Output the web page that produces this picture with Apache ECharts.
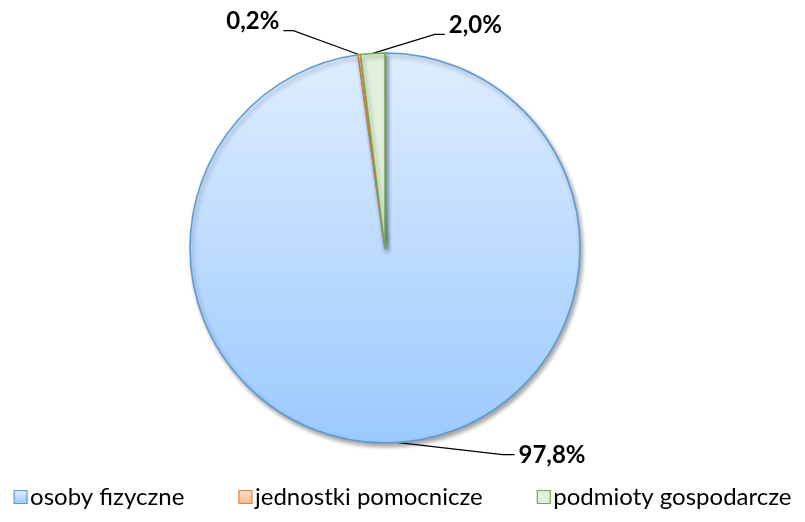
<!DOCTYPE html>
<html>
<head>
<meta charset="utf-8">
<script src="https://cdn.jsdelivr.net/npm/echarts@6/dist/echarts.min.js"></script>
<style>
  html, body { margin: 0; padding: 0; background: #ffffff; }
  #chart { width: 805px; height: 522px; }
</style>
</head>
<body>
<div id="chart"></div>
<script>
// Structure of entities (share, %)
const categories = ['osoby fizyczne', 'jednostki pomocnicze', 'podmioty gospodarcze'];
const values = [97.8, 0.2, 2.0];
const valueLabels = ['97,8%', '0,2%', '2,0%'];

const borderColors = ['#5b9bd5', '#ed7d31', '#70ad47'];
const fillTop = ['#deedff', '#fbe0cc', '#e2efda'];
const fillBottom = ['#9ccaff', '#f6b98c', '#e2efda'];

function grad(i) {
  return new echarts.graphic.LinearGradient(0, 0, 0, 1, [
    { offset: 0, color: fillTop[i] },
    { offset: 1, color: fillBottom[i] }
  ]);
}

// Leader-line shape for each label: [dx1, dy1, dx2 (horizontal tail)]
const leaderShape = [
  [104, 12, 12],
  [-66, -24, -10],
  [62, -19, 10]
];

const chart = echarts.init(document.getElementById('chart'));

chart.setOption({
  animation: false,
  legend: {
    bottom: 8,
    left: 'center',
    itemWidth: 13,
    itemHeight: 13,
    itemGap: 54,
    icon: 'rect',
    textStyle: { fontFamily: 'Lato', fontSize: 24, color: '#000', padding: [0, 0, 0, -2] },
    data: categories.map((c, i) => ({
      name: c,
      itemStyle: { color: grad(i), borderColor: borderColors[i], borderWidth: 1.2 }
    }))
  },
  series: [{
    type: 'pie',
    center: [385, 248],
    radius: 195,
    startAngle: 90,
    clockwise: true,
    avoidLabelOverlap: false,
    data: categories.map((c, i) => ({
      name: c,
      value: values[i],
      itemStyle: {
        color: grad(i),
        borderColor: borderColors[i],
        borderWidth: 1.5,
        shadowColor: 'rgba(0,0,0,0.35)',
        shadowBlur: 4,
        shadowOffsetX: 2,
        shadowOffsetY: 3
      }
    })),
    label: {
      show: true,
      position: 'outside',
      formatter: p => valueLabels[p.dataIndex],
      fontFamily: 'Lato',
      fontWeight: 'bold',
      fontSize: 24,
      color: '#000'
    },
    labelLine: {
      show: true,
      length: 10,
      length2: 10,
      lineStyle: { color: '#000', width: 1.2 }
    },
    labelLayout: function (params) {
      const i = params.dataIndex;
      const a = params.labelLinePoints[0];
      const s = leaderShape[i];
      const p1 = [a[0] + s[0], a[1] + s[1]];
      const p2 = [p1[0] + s[2], p1[1]];
      const right = s[2] > 0;
      return {
        x: p2[0] + (right ? 4 : -4),
        y: p2[1] - (i === 0 ? -1 : 9),
        align: right ? 'left' : 'right',
        verticalAlign: 'middle',
        labelLinePoints: [a, p1, p2]
      };
    }
  }]
});
</script>
</body>
</html>
